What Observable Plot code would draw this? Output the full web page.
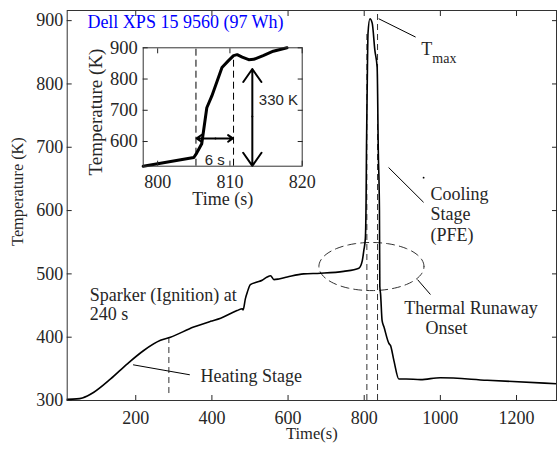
<!DOCTYPE html>
<html><head><meta charset="utf-8">
<script src="https://cdn.jsdelivr.net/npm/d3@7"></script>
<script src="https://cdn.jsdelivr.net/npm/@observablehq/plot@0.6"></script>
<style>
body{margin:0;background:#fff;}
#wrap{position:relative;width:557px;height:451px;overflow:hidden;}
#inset{position:absolute;left:80px;top:35px;}
svg{overflow:visible;}
</style></head><body><div id="wrap"><div id="main"></div><div id="inset"></div></div>
<script>
// main curve
const timeS = [20,45,60,90,134,178,221,265,291,352,396,423,466,480,482,488,493,501,519,532,545,554,563,576,598,641,685,746,786,795,799,803,805,806,808,810,815,821,828,834,837,840,841,843,847,852,865,869,878,891,910,948,1000,1123,1305];
const tempK = [302,302.5,304,313,334,358,379,395,400,416,425,430,442,445,443,461,471,483,487,490,495,497,491,492,495,500,501,504,509,521,537,556,620,700,800,880,903,896,853,826,695,600,480,468,426,416,390,387,363,334,334,333,336,332,326.5];
const xTicks = [200,400,600,800,1000,1200];
const yTicks = [300,400,500,600,700,800,900];
// dashed markers (time, top, bottom)
const dashT = [287, 807, 835];
const dashTop = [400, 884, 916];
const dashBottom = [311, 300, 300];
// inset curve
const insetT = [798,801.8,805,805.4,806.1,806.8,807.5,808.9,809.8,810.5,811,811.7,812.6,813.3,814.6,816,817.9];
const insetK = [521,536,549,563,593,708,746,837,859,875,878,870,862,863,875,889,900];
const insetXTicks = [800,810,820];
const insetYTicks = [600,700,800,900];
const insetDashT = [805.3, 810.5];
const insetDashTop = [900, 860];
// ellipse (center time, center temp, radius time, radius temp)
const ellipseC = [819, 511.6];
const ellipseR = [138, 38];

const curve = timeS.map((t, i) => ({t, k: tempK[i]}));
const dashes = dashT.map((t, i) => ({t, y1: dashBottom[i], y2: dashTop[i]}));
const ellipse = d3.range(0, 361, 4).map(a => ({
  t: ellipseC[0] + ellipseR[0] * Math.cos(a * Math.PI / 180),
  k: ellipseC[1] + ellipseR[1] * Math.sin(a * Math.PI / 180)
}));
const serif = "Liberation Serif";
const sans = "Liberation Sans";
const ink = "#262626";
const fmt = d => String(d);

const main = Plot.plot({
  width: 557, height: 451,
  marginLeft: 66.7, marginRight: 1, marginTop: 10, marginBottom: 51,
  x: {domain: [20, 1305], axis: null},
  y: {domain: [300, 916], axis: null},
  style: {fontFamily: serif, fontSize: "18px", color: ink, background: "transparent"},
  marks: [
    Plot.ruleX(dashes, {x: "t", y1: "y1", y2: "y2", stroke: "#333", strokeWidth: 1, strokeDasharray: "6,4"}),
    Plot.line(ellipse, {x: "t", y: "k", stroke: "#333", strokeWidth: 1, strokeDasharray: "8,5"}),
    Plot.line(curve, {x: "t", y: "k", stroke: "#000", strokeWidth: 1.6, curve: "monotone-x"}),
    Plot.link([{x1: 838, y1: 903, x2: 935, y2: 874}, {x1: 864, y1: 668, x2: 956, y2: 613},
               {x1: 193, y1: 356.4, x2: 342, y2: 340.6}, {x1: 940, y1: 491, x2: 974, y2: 467.4}],
      {x1: "x1", y1: "y1", x2: "x2", y2: "y2", stroke: "#000", strokeWidth: 1}),
    Plot.dot([{t: 956, k: 652}], {x: "t", y: "k", r: 0.9, fill: "#000", stroke: null}),
    Plot.text(["Dell XPS 15 9560 (97 Wh)"], {x: 73, y: 897, textAnchor: "start", fill: "#0000ff", fontFamily: serif, fontSize: 18}),
    Plot.text(["Sparker (Ignition) at"], {x: 79.4, y: 467, textAnchor: "start", fontFamily: serif, fontSize: 18}),
    Plot.text(["240 s"], {x: 79.4, y: 435.5, textAnchor: "start", fontFamily: serif, fontSize: 18}),
    Plot.text(["Heating Stage"], {x: 370, y: 338, textAnchor: "start", fontFamily: serif, fontSize: 18}),
    Plot.text(["Cooling"], {x: 974, y: 626.5, textAnchor: "start", fontFamily: serif, fontSize: 18}),
    Plot.text(["Stage"], {x: 974, y: 594.5, textAnchor: "start", fontFamily: serif, fontSize: 18}),
    Plot.text(["(PFE)"], {x: 974, y: 561.8, textAnchor: "start", fontFamily: serif, fontSize: 18}),
    Plot.text(["Thermal Runaway"], {x: 1080.5, y: 446, textAnchor: "middle", fontFamily: serif, fontSize: 18}),
    Plot.text(["Onset"], {x: 1016, y: 414.5, textAnchor: "middle", fontFamily: serif, fontSize: 18}),
    Plot.text(["T"], {x: 949.7, y: 855.3, textAnchor: "start", fontFamily: serif, fontSize: 18}),
    Plot.text(["max"], {x: 979, y: 840.8, textAnchor: "start", fontFamily: serif, fontSize: 14}),
    Plot.frame({stroke: "#333", strokeWidth: 1}),
    Plot.axisX(xTicks, {anchor: "bottom", tickSize: -5, tickPadding: 16, label: null, tickFormat: fmt, fontFamily: serif, fontSize: 18}),
    Plot.axisX(xTicks, {anchor: "top", tickSize: -5, tickFormat: () => "", label: null}),
    Plot.axisY(yTicks, {anchor: "left", tickSize: -5, tickPadding: 9, label: null, tickFormat: fmt, fontFamily: serif, fontSize: 18}),
    Plot.axisY(yTicks, {anchor: "right", tickSize: -5, tickFormat: () => "", label: null}),
    Plot.text(["Temperature (K)"], {frameAnchor: "left", y: 630, dx: -49.7, rotate: -90, textAnchor: "middle", fontFamily: serif, fontSize: 16.3}),
    Plot.text(["Time(s)"], {frameAnchor: "bottom", dy: 38, textAnchor: "middle", fontFamily: serif, fontSize: 16.5})
  ]
});
document.getElementById("main").appendChild(main);

const insetCurve = insetT.map((t, i) => ({t, k: insetK[i]}));
const insetDashes = insetDashT.map((t, i) => ({t, y1: 521, y2: insetDashTop[i]}));
const inset = Plot.plot({
  width: 230, height: 180,
  marginLeft: 62.7, marginRight: 8.3, marginTop: 12.3, marginBottom: 49.3,
  x: {domain: [798, 820], axis: null},
  y: {domain: [521, 900], axis: null},
  style: {fontFamily: serif, fontSize: "18px", color: ink, background: "transparent"},
  marks: [
    Plot.ruleX(insetDashes, {x: "t", y1: "y1", y2: "y2", stroke: "#000", strokeWidth: 1, strokeDasharray: "7,4"}),
    Plot.line(insetCurve, {x: "t", y: "k", stroke: "#000", strokeWidth: 3}),
    Plot.arrow([{x1: 808, y1: 610, x2: 805.4, y2: 610}, {x1: 808, y1: 610, x2: 810.4, y2: 610},
                {x1: 813.1, y1: 680, x2: 813.1, y2: 832}, {x1: 813.1, y1: 680, x2: 813.1, y2: 522}],
      {x1: "x1", y1: "y1", x2: "x2", y2: "y2", stroke: "#000", strokeWidth: 2, headLength: 12, headAngle: 70}),
    Plot.text(["330 K"], {x: 814, y: 732.6, textAnchor: "start", fontFamily: sans, fontSize: 15}),
    Plot.text(["6 s"], {x: 806.5, y: 539, textAnchor: "start", fontFamily: sans, fontSize: 15}),
    Plot.frame({stroke: "#333", strokeWidth: 1}),
    Plot.axisX(insetXTicks, {anchor: "bottom", tickSize: -5, tickPadding: 14, label: null, tickFormat: fmt, fontFamily: serif, fontSize: 18}),
    Plot.axisX(insetXTicks, {anchor: "top", tickSize: -5, tickFormat: () => "", label: null}),
    Plot.axisY(insetYTicks, {anchor: "left", tickSize: -5, tickPadding: 10.4, label: null, tickFormat: fmt, fontFamily: serif, fontSize: 18.5}),
    Plot.axisY(insetYTicks, {anchor: "right", tickSize: -5, tickFormat: () => "", label: null}),
    Plot.text(["Temperature (K)"], {frameAnchor: "left", y: 694.5, dx: -47.7, rotate: -90, textAnchor: "middle", fontFamily: serif, fontSize: 19}),
    Plot.text(["Time (s)"], {frameAnchor: "bottom", dy: 39, textAnchor: "middle", fontFamily: serif, fontSize: 18})
  ]
});
document.getElementById("inset").appendChild(inset);
</script></body></html>
